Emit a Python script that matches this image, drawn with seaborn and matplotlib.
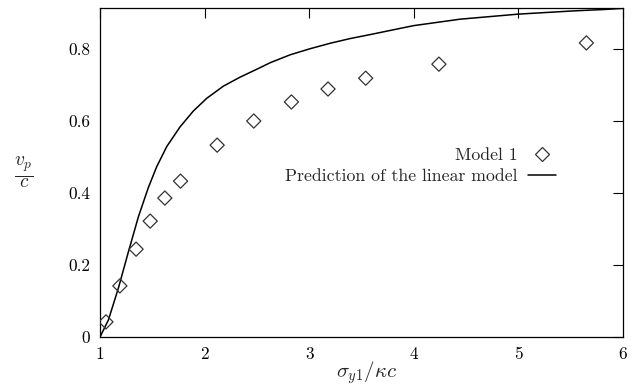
import matplotlib
matplotlib.use("Agg")
import matplotlib.pyplot as plt
import seaborn as sns
import pandas as pd
from matplotlib.lines import Line2D

# Model 1 simulation results
model_x = [1.057, 1.19, 1.345, 1.48, 1.62, 1.77, 2.12, 2.47, 2.83, 3.18, 3.54, 4.24, 5.65]
model_v = [0.042, 0.142, 0.244, 0.322, 0.386, 0.433, 0.533, 0.600, 0.653, 0.689, 0.719, 0.758, 0.817]

# Linear model prediction
lin_x = [1.0, 1.08, 1.175, 1.27, 1.367, 1.462, 1.542, 1.638, 1.766, 1.893, 2.02, 2.18, 2.34,
         2.50, 2.627, 2.818, 3.01, 3.2, 3.39, 3.58, 3.998, 4.445, 5.0, 5.53, 5.83, 6.0]
lin_v = [0.0, 0.047, 0.135, 0.235, 0.334, 0.415, 0.473, 0.529, 0.584, 0.628, 0.663, 0.697, 0.722,
         0.744, 0.762, 0.784, 0.801, 0.816, 0.829, 0.840, 0.865, 0.883, 0.897, 0.906, 0.910, 0.913]

x_ticks = [1, 2, 3, 4, 5, 6]
y_ticks = [0, 0.2, 0.4, 0.6, 0.8]
y_tick_labels = ["0", "0.2", "0.4", "0.6", "0.8"]

sns.set_style("white")
plt.rcParams["font.family"] = ["cmr10"]
plt.rcParams["mathtext.fontset"] = "cm"
plt.rcParams["axes.formatter.use_mathtext"] = True

fig = plt.figure(figsize=(6.38, 3.86), dpi=100)
ax = fig.add_axes([100 / 638, 1 - 337 / 386, 523 / 638, 329 / 386])

df_model = pd.DataFrame({"x": model_x, "v": model_v})
df_lin = pd.DataFrame({"x": lin_x, "v": lin_v})

sns.lineplot(data=df_lin, x="x", y="v", ax=ax, color="black", linewidth=1.1,
             sort=False, estimator=None, legend=False)
sns.scatterplot(data=df_model, x="x", y="v", ax=ax, marker="D", s=52,
                facecolor="none", edgecolor="#333333", linewidth=0.9, legend=False, zorder=3)

ax.set_xlim(1, 6)
ax.set_ylim(0, 0.914)
ax.set_xticks(x_ticks)
ax.set_xticklabels([str(t) for t in x_ticks])
ax.set_yticks(y_ticks)
ax.set_yticklabels(y_tick_labels)
ax.tick_params(direction="in", length=7, width=0.8, top=True, right=True,
               labeltop=False, labelright=False, labelsize=12.4, pad=7, colors="black")
for sp in ax.spines.values():
    sp.set_color("black")
    sp.set_linewidth(0.9)

ax.set_xlabel(r"$\sigma_{y1}/\kappa c$", fontsize=15)
ax.xaxis.label.set_va("center")
ax.xaxis.set_label_coords(0.51, -0.108)
ax.set_ylabel(r"$\frac{v_p}{c}$", fontsize=20, rotation=0, va="center", ha="center")
ax.yaxis.set_label_coords(-0.145, 0.50)

handles = [
    Line2D([], [], linestyle="none", marker="D", markersize=7, markerfacecolor="none",
           markeredgecolor="#333333", markeredgewidth=0.9),
    Line2D([], [], color="black", linewidth=1.1),
]
ax.legend(handles, ["Model 1", "Prediction of the linear model"], markerfirst=False,
          frameon=False, fontsize=12.8, loc="center right", bbox_to_anchor=(0.872, 0.52),
          handlelength=1.6, handletextpad=0.56, labelspacing=0.3, borderpad=0,
          borderaxespad=0)

fig.savefig("out.png", dpi=100)
